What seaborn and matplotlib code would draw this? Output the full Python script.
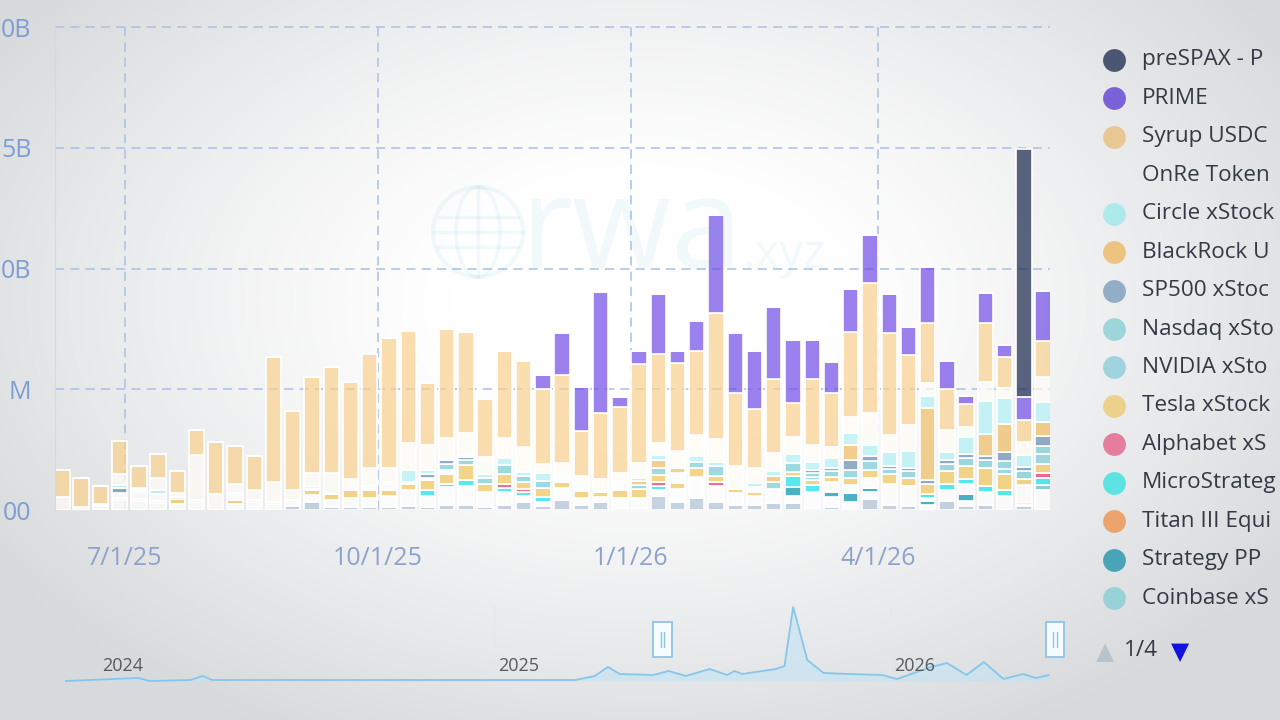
"""
Weekly RWA transfer volume by asset — stacked bars + overview strip
"""
import numpy as np
import pandas as pd
import matplotlib
matplotlib.use("Agg")
import matplotlib.pyplot as plt
import matplotlib.dates as mdates
from matplotlib.patches import Circle, Ellipse, Rectangle
from matplotlib.ticker import FuncFormatter
from matplotlib.transforms import blended_transform_factory
import seaborn as sns

sns.set_style("white")
plt.rcParams["font.family"] = ["Open Sans", "DejaVu Sans"]

# ─────────────────────────────────────────────
# Data  (weekly volume, $M)
# ─────────────────────────────────────────────
weeks = pd.date_range("2025-06-08", periods=52, freq="7D")

prespax = [0, 0, 0, 0, 0, 0, 0, 0, 0, 0, 0, 0, 0,
           0, 0, 0, 0, 0, 0, 0, 0, 0, 0, 0, 0, 0,
           0, 0, 0, 0, 0, 0, 0, 0, 0, 0, 0, 0, 0,
           0, 0, 0, 0, 0, 0, 0, 0, 0, 0, 0, 1025, 0]
prime = [0, 0, 0, 0, 0, 0, 0, 0, 0, 0, 0, 0, 0,
         0, 0, 0, 0, 0, 0, 0, 0, 0, 0, 0, 0, 58,
         174, 182, 500, 41, 54, 248, 50, 124, 409, 248, 240, 297, 264,
         165, 128, 182, 198, 165, 116, 231, 116, 33, 124, 50, 95, 207]
syrup = [112, 120, 74, 136, 91, 99, 91, 103, 215, 157, 140, 516, 326,
         397, 438, 405, 475, 541, 463, 256, 450, 421, 240, 359, 355, 310,
         364, 186, 273, 273, 409, 368, 364, 347, 520, 302, 244, 306, 140,
         273, 227, 351, 541, 421, 289, 248, 169, 95, 244, 128, 91, 149]
onre = [54, 12, 8, 45, 8, 50, 17, 186, 66, 37, 41, 83, 41,
        54, 87, 45, 74, 58, 112, 103, 91, 91, 70, 83, 103, 37,
        45, 29, 54, 37, 62, 50, 70, 87, 95, 95, 62, 74, 70,
        70, 45, 66, 132, 70, 107, 54, 91, 41, 78, 41, 54, 103]
circle = [0, 0, 0, 12, 8, 17, 0, 0, 0, 8, 0, 0, 0,
          0, 0, 0, 8, 8, 50, 17, 0, 8, 17, 29, 17, 33,
          8, 8, 0, 8, 12, 21, 0, 25, 17, 0, 17, 21, 37,
          33, 41, 50, 45, 58, 70, 50, 33, 70, 136, 107, 50, 83]
blackrock = [0, 0, 0, 0, 0, 0, 0, 0, 0, 0, 0, 0, 0,
             0, 0, 0, 0, 0, 0, 0, 0, 0, 0, 0, 0, 0,
             0, 0, 0, 0, 17, 33, 21, 0, 0, 0, 0, 25, 0,
             0, 0, 62, 0, 0, 0, 297, 0, 0, 91, 116, 0, 58]
sp500 = [0, 0, 8, 21, 0, 0, 8, 0, 0, 0, 0, 0, 0,
         8, 0, 0, 0, 0, 0, 17, 17, 12, 0, 0, 0, 0,
         0, 0, 0, 0, 0, 0, 0, 0, 0, 0, 0, 0, 0,
         12, 12, 41, 21, 12, 12, 17, 17, 17, 17, 37, 17, 41]
nasdaq = [0, 0, 0, 0, 0, 0, 0, 0, 0, 0, 0, 0, 0,
          0, 0, 0, 0, 0, 0, 0, 25, 21, 25, 37, 25, 29,
          0, 0, 0, 0, 17, 29, 0, 25, 41, 0, 0, 29, 37,
          17, 25, 33, 37, 21, 29, 0, 29, 33, 33, 33, 33, 33]
nvidia = [0, 0, 0, 0, 0, 0, 0, 0, 0, 0, 0, 0, 0,
          0, 0, 0, 0, 0, 0, 0, 0, 0, 0, 0, 0, 0,
          0, 0, 0, 0, 0, 0, 0, 0, 0, 0, 0, 0, 0,
          12, 0, 0, 0, 0, 0, 0, 0, 0, 0, 21, 0, 41]
other_mid = [0, 0, 0, 21, 29, 29, 0, 0, 0, 21, 0, 0, 0,
             8, 0, 0, 8, 25, 8, 8, 17, 0, 0, 0, 0, 0,
             25, 25, 0, 25, 0, 0, 41, 0, 0, 0, 21, 0, 0,
             0, 0, 0, 0, 0, 0, 0, 0, 0, 0, 0, 0, 0]
tesla = [0, 0, 0, 8, 8, 8, 21, 8, 0, 17, 8, 8, 8,
         21, 25, 33, 33, 25, 25, 41, 41, 62, 33, 41, 29, 37,
         25, 29, 21, 33, 37, 29, 25, 37, 25, 17, 17, 0, 17,
         21, 21, 29, 33, 41, 33, 41, 54, 54, 74, 66, 25, 37]
alphabet = [0, 0, 0, 0, 0, 0, 0, 0, 0, 0, 0, 0, 0,
            0, 0, 0, 0, 0, 0, 0, 0, 0, 0, 17, 12, 0,
            0, 0, 0, 0, 0, 17, 0, 0, 17, 0, 0, 0, 0,
            0, 0, 0, 0, 0, 0, 0, 0, 0, 0, 0, 0, 21]
mstr = [0, 0, 0, 0, 0, 0, 0, 0, 0, 8, 0, 0, 0,
        0, 0, 8, 0, 0, 0, 25, 12, 25, 0, 17, 17, 21,
        0, 0, 0, 0, 0, 17, 0, 0, 0, 0, 0, 0, 45,
        29, 0, 0, 0, 0, 0, 17, 25, 21, 25, 25, 0, 29]
other_low = [0, 0, 8, 41, 37, 29, 25, 33, 0, 17, 33, 25, 17,
             29, 29, 29, 37, 45, 66, 45, 74, 78, 62, 54, 25, 17,
             50, 29, 21, 41, 41, 25, 54, 87, 66, 50, 37, 58, 0,
             66, 41, 33, 41, 87, 83, 12, 45, 41, 54, 58, 70, 0]
titan = [0, 0, 0, 0, 0, 0, 0, 0, 0, 0, 0, 0, 0,
         0, 0, 0, 0, 0, 0, 0, 0, 0, 0, 0, 0, 0,
         0, 0, 0, 0, 0, 0, 0, 0, 0, 0, 0, 0, 0,
         0, 0, 0, 0, 0, 0, 0, 0, 0, 0, 0, 8, 0]
strategy_pp = [0, 0, 0, 0, 0, 0, 0, 0, 0, 0, 0, 0, 0,
               0, 0, 0, 0, 0, 0, 0, 0, 0, 0, 0, 0, 0,
               0, 0, 0, 0, 0, 0, 0, 0, 0, 0, 0, 0, 37,
               0, 21, 37, 17, 0, 0, 17, 0, 29, 0, 0, 0, 0]
coinbase = [0, 0, 0, 0, 0, 0, 0, 0, 0, 0, 0, 0, 0,
            0, 0, 0, 0, 0, 0, 0, 0, 0, 0, 0, 0, 0,
            0, 0, 0, 0, 0, 0, 0, 0, 0, 0, 0, 0, 0,
            0, 0, 0, 0, 0, 0, 0, 0, 0, 0, 0, 0, 21]
other_base = [0, 0, 0, 0, 0, 0, 0, 0, 0, 0, 0, 0, 0,
              0, 0, 0, 0, 0, 0, 0, 0, 0, 0, 0, 0, 0,
              0, 0, 0, 0, 0, 0, 0, 0, 0, 0, 0, 0, 29,
              0, 41, 33, 29, 0, 0, 21, 0, 21, 0, 0, 8, 83]
others = [0, 0, 0, 0, 0, 0, 0, 0, 0, 0, 0, 0, 17,
          33, 12, 12, 12, 12, 17, 12, 21, 21, 12, 21, 33, 17,
          41, 21, 33, 8, 8, 58, 33, 50, 33, 21, 21, 29, 29,
          8, 12, 0, 45, 21, 17, 0, 37, 17, 21, 0, 17, 0]

# top of stack first (seaborn stacks the first hue level on top)
stack_order = ["preSPAX", "PRIME", "Syrup USDC", "OnRe Token", "Circle xStock",
               "BlackRock", "SP500 xStock", "Nasdaq xStock", "NVIDIA xStock",
               "other_mid", "Tesla xStock", "Alphabet xStock", "MicroStrategy xStock",
               "other_low", "Titan III", "Strategy PP", "Coinbase xStock",
               "other_base", "Others"]
stack_values = [prespax, prime, syrup, onre, circle, blackrock, sp500, nasdaq, nvidia,
                other_mid, tesla, alphabet, mstr, other_low, titan, strategy_pp,
                coinbase, other_base, others]

bar_colors = {
    "preSPAX": "#17254c", "PRIME": "#704ce7", "Syrup USDC": "#f9d18e",
    "OnRe Token": "#fffdf6", "Circle xStock": "#b0f1f5", "BlackRock": "#efbd62",
    "SP500 xStock": "#698db1", "Nasdaq xStock": "#77cdd4", "NVIDIA xStock": "#7fcbd9",
    "other_mid": "#ffffff", "Tesla xStock": "#f1c65b", "Alphabet xStock": "#e23769",
    "MicroStrategy xStock": "#14e2e9", "other_low": "#ffffff", "Titan III": "#db5b22",
    "Strategy PP": "#0594b1", "Coinbase xStock": "#69bfcd", "other_base": "#ffffff",
    "Others": "#b0c2d8",
}

# legend page 1/4 (labels as far as the panel shows them)
legend_labels = ["preSPAX - P", "PRIME", "Syrup USDC", "OnRe Token",
                 "Circle xStock", "BlackRock U", "SP500 xStoc",
                 "Nasdaq xSto", "NVIDIA xSto", "Tesla xStock", "Alphabet xS",
                 "MicroStrateg", "Titan III Equi", "Strategy PP", "Coinbase xS"]
legend_colors = ["#4b5673", "#7b62d8", "#e9c793", "none", "#aee9eb", "#edc47f",
                 "#93adc6", "#9dd6da", "#9fd3de", "#ebd18a", "#e57e9c", "#5ee3e3",
                 "#eba56c", "#4aa4b8", "#98d1d8"]

# y labels as far as the panel edge shows them
y_ticks = [0, 500, 1000, 1500, 2000]
y_tick_labels = ["00", "M", "0B", "5B", "0B"]

# overview strip (whole history)
mini_dates = pd.to_datetime([
    "2023-12-02", "2024-02-08", "2024-02-18", "2024-03-27", "2024-04-07", "2024-04-16",
    "2025-03-17", "2025-04-04", "2025-04-16", "2025-04-27", "2025-05-28", "2025-06-11",
    "2025-06-27", "2025-07-19", "2025-08-04", "2025-08-11", "2025-08-18", "2025-09-18",
    "2025-09-26", "2025-10-04", "2025-10-17", "2025-11-01", "2025-11-24", "2025-12-25",
    "2026-01-08", "2026-02-08", "2026-02-23", "2026-03-13", "2026-03-29", "2026-04-16",
    "2026-05-04", "2026-05-16", "2026-05-28"])
mini_values = [0, 3, 0, 1, 5, 1,
               1, 5, 14, 7, 6, 10,
               5, 12, 6, 10, 7, 12,
               15, 74, 21, 8, 7, 6,
               2, 14, 18, 6, 19, 2,
               7, 3, 6]
mini_years = [2024, 2025, 2026]

# ─────────────────────────────────────────────
# Figure + background vignette
# ─────────────────────────────────────────────
W, H = 1280, 720
fig = plt.figure(figsize=(12.8, 7.2), dpi=100)

ax_bg = fig.add_axes([0, 0, 1, 1], zorder=-10)
gy, gx = np.mgrid[0:H:4, 0:W:4]
r = np.sqrt(((gx - 640) / 760) ** 2 + ((gy - 300) / 480) ** 2)
t = np.clip((r - 0.25) / 0.75, 0, 1) ** 1.2
edge = np.array([216, 218, 220]) / 255
img = 1 - t[..., None] * (1 - edge)
ax_bg.imshow(img, extent=(0, W, H, 0), aspect="auto", interpolation="bilinear")
ax_bg.set_xlim(0, W)
ax_bg.set_ylim(H, 0)
ax_bg.axis("off")

# ─────────────────────────────────────────────
# Main stacked bars
# ─────────────────────────────────────────────
ax = fig.add_axes([55 / W, 1 - 510 / H, 995 / W, 483 / H])
ax.set_facecolor("none")

week_num = mdates.date2num(weeks)
rows = []
for name, vals in zip(stack_order, stack_values):
    for xv, v in zip(week_num, vals):
        rows.append((xv, name, v))
df = pd.DataFrame(rows, columns=["week", "series", "volume"])

sns.histplot(data=df, x="week", weights="volume", hue="series", hue_order=stack_order,
             palette=bar_colors, multiple="stack", bins=len(weeks),
             binrange=(week_num[0] - 3.5, week_num[-1] + 3.5), shrink=0.8,
             element="bars", alpha=0.7, edgecolor="white", linewidth=1.2,
             legend=False, ax=ax)

ax.set_xlim(mdates.date2num(pd.Timestamp("2025-06-05 12:00")),
            mdates.date2num(pd.Timestamp("2026-06-02 12:00")))
ax.set_ylim(0, 2000)
ax.set_xlabel("")
ax.set_ylabel("")

ax.xaxis.set_major_locator(mdates.MonthLocator(bymonth=[1, 4, 7, 10]))
def fmt_date(v, pos):
    d = mdates.num2date(v)
    return f"{d.month}/{d.day}/{d.year % 100}"
ax.xaxis.set_major_formatter(FuncFormatter(fmt_date))
ax.set_yticks(y_ticks)
ax.set_yticklabels(y_tick_labels)

grid_col = "#a9c0e2"
ax.set_axisbelow(True)
ax.grid(True, axis="x", color=grid_col, linestyle=(0, (6, 4)), linewidth=1.1)
for yv in y_ticks[1:]:
    ax.axhline(yv, color=grid_col, linestyle=(0, (6, 4)), linewidth=1.1,
               zorder=0, clip_on=False)

ax.tick_params(axis="x", length=14, width=1.2, color="#b8cae4", pad=12,
               labelsize=18, labelcolor="#8da3cc")
ax.tick_params(axis="y", length=0, pad=17, labelsize=18, labelcolor="#7d9ed4")
for s in ["top", "right", "bottom"]:
    ax.spines[s].set_visible(False)
ax.spines["left"].set_color("#d3dbe1")

# ─────────────────────────────────────────────
# Overview strip with slider handles
# ─────────────────────────────────────────────
axm = fig.add_axes([65 / W, 1 - 682 / H, 985 / W, 77 / H])
axm.set_facecolor("none")
mini_num = mdates.date2num(mini_dates)
axm.fill_between(mini_num, mini_values, 0, color="#bfe4f6", alpha=0.55, linewidth=0)
sns.lineplot(x=mini_num, y=mini_values, ax=axm, color="#86c6ea", linewidth=1.3)
axm.set_xlim(mdates.date2num(pd.Timestamp("2023-12-02")),
             mdates.date2num(pd.Timestamp("2026-05-29")))
axm.set_ylim(-1, 76)
axm.axis("off")

trm = blended_transform_factory(axm.transData, axm.transAxes)
for yr in mini_years[1:]:
    axm.axvline(mdates.date2num(pd.Timestamp(f"{yr}-01-01")), color="#e2e8ee",
                linewidth=1, zorder=0)
for yr in mini_years:
    axm.text(mdates.date2num(pd.Timestamp(f"{yr}-01-01")) + 4, 0.21, str(yr),
             transform=trm, fontsize=13, color="#555b62", va="center", ha="left")

for xh in ax.get_xlim():
    axm.add_patch(Rectangle((xh - 8.5, 0.32), 17, 0.46, transform=trm,
                            facecolor="#f6fbfe", edgecolor="#8fc4e4", linewidth=1.3,
                            clip_on=False, zorder=5))
    for dx in (-1.6, 1.6):
        axm.plot([xh + dx, xh + dx], [0.45, 0.65], transform=trm, color="#8fc4e4",
                 linewidth=1, clip_on=False, zorder=6)

# ─────────────────────────────────────────────
# Overlay: watermark, legend, pager (pixel coords)
# ─────────────────────────────────────────────
ov = fig.add_axes([0, 0, 1, 1], zorder=10)
ov.set_facecolor("none")
ov.set_xlim(0, W)
ov.set_ylim(H, 0)
ov.axis("off")

wm = "#4fb8d2"
ov.add_patch(Circle((478, 232), 45, fill=False, edgecolor=wm, linewidth=3, alpha=0.08))
ov.add_patch(Ellipse((478, 232), 44, 90, fill=False, edgecolor=wm, linewidth=2.5, alpha=0.08))
ov.plot([478, 478], [187, 277], color=wm, linewidth=2.5, alpha=0.08)
for yy, half in [(217, 40), (247, 40), (232, 45)]:
    ov.plot([478 - half, 478 + half], [yy, yy], color=wm, linewidth=2.5, alpha=0.08)
ov.text(520, 268, "rwa", fontsize=92, color=wm, alpha=0.08, va="baseline", ha="left")
ov.text(742, 268, ".xyz", fontsize=34, color=wm, alpha=0.08, va="baseline", ha="left")

for i, (lab, col) in enumerate(zip(legend_labels, legend_colors)):
    yy = 60 + i * 38.43
    if col != "none":
        ov.scatter([1114], [yy], s=270, color=col, linewidths=0, clip_on=False)
    ov.text(1142, yy, lab, fontsize=16.2, color="#333a45", va="center", ha="left")

ov.text(1105, 652, "▲", fontsize=17, color="#b8c4cc", va="center", ha="center",
        family="DejaVu Sans")
ov.text(1124, 651, "1/4", fontsize=16.2, color="#333a45", va="center", ha="left")
ov.text(1180, 652, "▼", fontsize=17, color="#1212e0", va="center", ha="center",
        family="DejaVu Sans")

plt.savefig("out.png", dpi=100)
print("saved → out.png")
